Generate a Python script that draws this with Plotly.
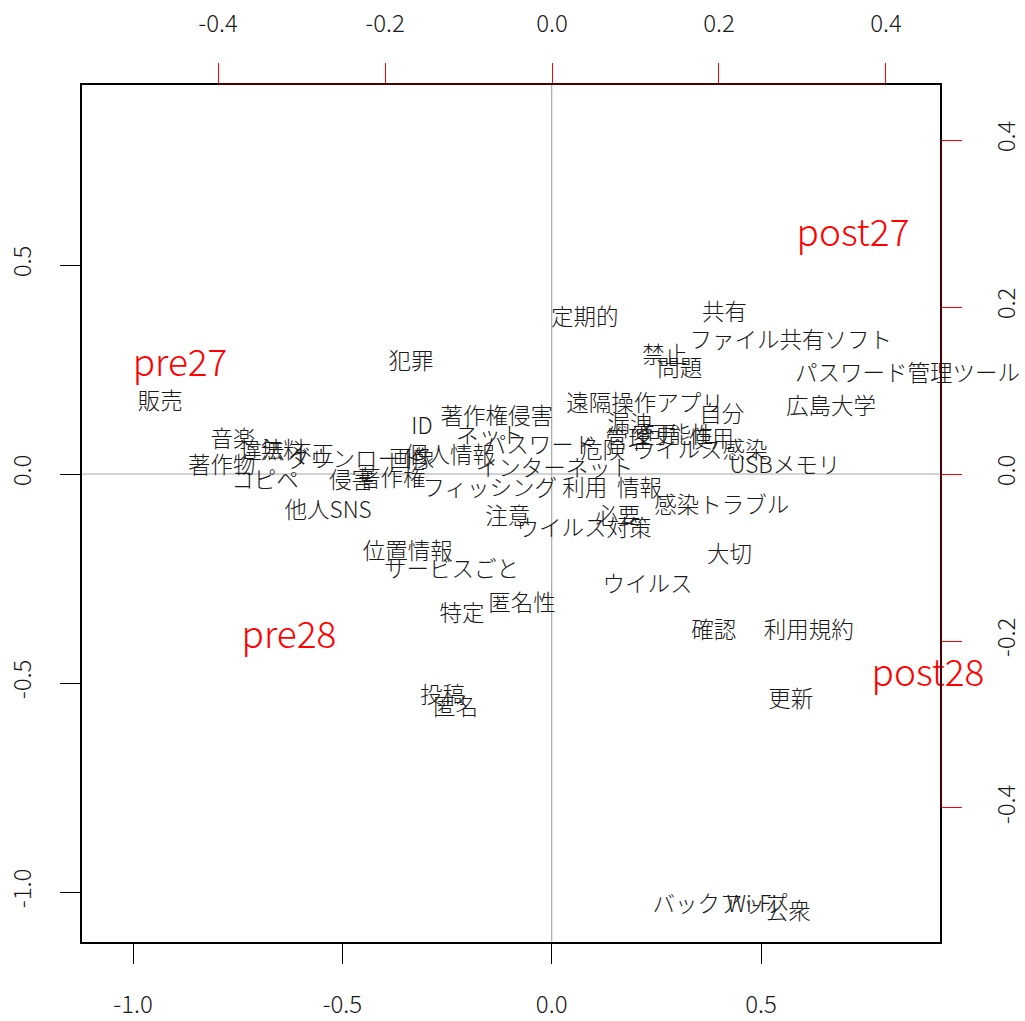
import plotly.graph_objects as go

# Word (column) coordinates: dimension 1 / dimension 2
words = ["定期的", "共有", "ファイル共有ソフト", "禁止", "問題", "パスワード管理ツール", "犯罪", "販売",
         "広島大学", "自分", "遠隔操作アプリ", "漏洩", "管理", "変更", "可能性", "使用", "危険",
         "ウイルス感染", "パスワード", "ネット", "著作権侵害", "ID", "個人情報", "インターネット",
         "ダウンロード", "画像", "侵害", "著作権", "著作物", "音楽", "違法", "無料", "不正", "コピペ",
         "他人SNS", "フィッシング", "利用", "情報", "注意", "必要", "ウイルス対策", "感染トラブル",
         "USBメモリ", "大切", "位置情報", "サービスごと", "ウイルス", "匿名性", "特定", "確認",
         "利用規約", "投稿", "匿名", "更新", "バックアップ", "Wi-Fi", "公衆"]
dim1 = [0.079, 0.413, 0.571, 0.270, 0.306, 0.850, -0.336, -0.935,
        0.667, 0.406, 0.223, 0.187, 0.182, 0.246, 0.306, 0.382, 0.122,
        0.354, -0.028, -0.148, -0.131, -0.310, -0.243, 0.007,
        -0.470, -0.334, -0.478, -0.382, -0.788, -0.761, -0.692, -0.642, -0.573, -0.685,
        -0.534, -0.148, 0.079, 0.210, -0.105, 0.158, 0.077, 0.406,
        0.557, 0.425, -0.344, -0.239, 0.229, -0.071, -0.214, 0.387,
        0.614, -0.261, -0.230, 0.571, 0.402, 0.478, 0.565]
dim2 = [0.371, 0.381, 0.316, 0.280, 0.249, 0.237, 0.264, 0.170,
        0.158, 0.139, 0.163, 0.115, 0.079, 0.087, 0.087, 0.079, 0.051,
        0.051, 0.063, 0.087, 0.132, 0.108, 0.039, 0.008,
        0.031, 0.031, -0.021, -0.016, 0.017, 0.079, 0.051, 0.051, 0.043, -0.021,
        -0.091, -0.038, -0.038, -0.040, -0.105, -0.105, -0.136, -0.079,
        0.015, -0.198, -0.191, -0.232, -0.268, -0.315, -0.339, -0.380,
        -0.378, -0.535, -0.564, -0.543, -1.035, -1.035, -1.052]

# Group (row) coordinates on the secondary (top/right) scale
groups = ["pre27", "post27", "pre28", "post28"]
g_dim1 = [-0.4455, 0.3605, -0.315, 0.4503]
g_dim2 = [0.1290, 0.2846, -0.1968, -0.2423]

main_ticks = [-1.0, -0.5, 0.0, 0.5]
main_ticktext = ["-1.0", "-0.5", "0.0", "0.5"]
sec_ticks = [-0.4, -0.2, 0.0, 0.2, 0.4]
sec_ticktext = ["-0.4", "-0.2", "0.0", "0.2", "0.4"]

x_range = [-1.1243, 0.9299]
y_range = [-1.1220, 0.9330]
x2_range = [-0.5641, 0.4659]
y2_range = [-0.5617, 0.4671]

FONT = "Noto Sans CJK JP"

fig = go.Figure()
fig.add_trace(go.Scatter(x=dim1, y=dim2, text=words, mode="text",
                         textposition="middle center", cliponaxis=False,
                         textfont=dict(family=FONT, size=22.5, color="#1a1a1a", weight=300),
                         xaxis="x", yaxis="y", showlegend=False, hoverinfo="skip"))
fig.add_trace(go.Scatter(x=g_dim1, y=g_dim2, text=groups, mode="text",
                         textposition="middle center", cliponaxis=False,
                         textfont=dict(family=FONT, size=37, color="#ff0000", weight=300),
                         xaxis="x2", yaxis="y2", showlegend=False, hoverinfo="skip"))

tickfont = dict(family=FONT, size=24, color="#1a1a1a", weight=300)
common = dict(showgrid=False, zeroline=False, showline=False, ticks="outside",
              ticklen=20, tickwidth=1.2, tickfont=tickfont, automargin=False)

fig.update_layout(
    width=1025, height=1021,
    margin=dict(l=81, r=84, t=84, b=78, autoexpand=False),
    paper_bgcolor="white", plot_bgcolor="white",
    xaxis=dict(range=x_range, tickvals=main_ticks, ticktext=main_ticktext,
               tickcolor="black", ticklabelstandoff=20, **common),
    yaxis=dict(range=y_range, tickvals=main_ticks, ticktext=main_ticktext,
               tickcolor="black", tickangle=-90, ticklabelstandoff=19, **common),
    xaxis2=dict(range=x2_range, tickvals=sec_ticks, ticktext=sec_ticktext,
                overlaying="x", side="top", anchor="y",
                tickcolor="red", ticklabelstandoff=21, **common),
    yaxis2=dict(range=y2_range, tickvals=sec_ticks, ticktext=sec_ticktext,
                overlaying="y", side="right", anchor="x",
                tickcolor="red", tickangle=-90, ticklabelstandoff=24, **common),
)

shapes = [
    dict(type="line", xref="x", yref="paper", x0=0, x1=0, y0=0, y1=1,
         line=dict(color="#a8a8a8", width=1.2), layer="below"),
    dict(type="line", xref="paper", yref="y", x0=0, x1=1, y0=0, y1=0,
         line=dict(color="#a8a8a8", width=1.2), layer="below"),
    dict(type="rect", xref="paper", yref="paper", x0=0, x1=1, y0=0, y1=1,
         line=dict(color="black", width=2)),
    dict(type="line", xref="x2", yref="paper", x0=sec_ticks[0], x1=sec_ticks[-1], y0=1, y1=1,
         line=dict(color="#4a0000", width=2)),
    dict(type="line", xref="paper", yref="y2", x0=1, x1=1, y0=sec_ticks[0], y1=sec_ticks[-1],
         line=dict(color="#4a0000", width=2)),
]
fig.update_layout(shapes=shapes)

fig.write_html("out.html")
